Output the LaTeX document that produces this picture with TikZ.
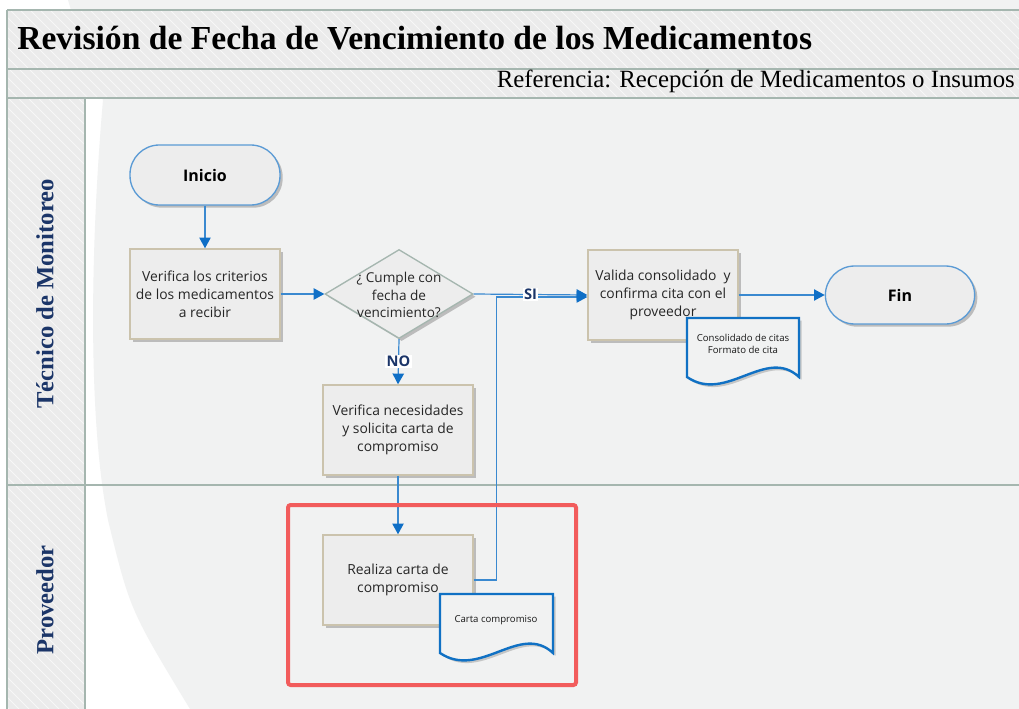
\documentclass[tikz,border=0pt]{standalone}
\usepackage{fontspec}
\setmainfont{Liberation Serif}
\newfontfamily\uifont{Open Sans}
\usetikzlibrary{arrows.meta,shapes.geometric,shadows,calc}
\definecolor{pagegray}{HTML}{F1F2F2}
\definecolor{headgray}{HTML}{EBEBEB}
\definecolor{laneline}{HTML}{A5B6AF}
\definecolor{navy}{HTML}{1B3568}
\definecolor{boxfill}{HTML}{EDEDED}
\definecolor{boxline}{HTML}{CBC3AD}
\definecolor{termline}{HTML}{5B9BD5}
\definecolor{arrowblue}{HTML}{0F6FC6}
\definecolor{lineblue}{HTML}{3A89D0}
\definecolor{docblue}{HTML}{1071C4}
\definecolor{redbox}{HTML}{F25C5C}
\tikzset{
  shade1/.style={drop shadow={shadow xshift=2pt, shadow yshift=-2pt, opacity=0.22, fill=black}},
  procbox/.style={draw=boxline, line width=1.1pt, fill=boxfill, minimum width=112.5pt, minimum height=67.5pt,
    inner sep=2pt, align=center, font=\uifont\fontsize{10.4}{13.5}\selectfont, text=black!85, shade1},
  term/.style={draw=termline, line width=1pt, fill=boxfill, minimum width=112.5pt, minimum height=45pt,
    rounded corners=22pt, font=\uifont\bfseries\fontsize{12}{14}\selectfont, shade1},
  dia/.style={diamond, draw=laneline, line width=1pt, fill=boxfill, minimum width=111pt, minimum height=66.75pt,
    inner sep=0pt, shade1},
  diatext/.style={align=center, font=\uifont\fontsize{10.2}{13.3}\selectfont, text=black!85, inner sep=0pt},
  doctext/.style={align=center, font=\uifont\fontsize{7.2}{9}\selectfont, text=black!90, inner sep=0pt},
  docshape/.style={draw=docblue, line width=1.8pt, fill=pagegray, line join=miter,
    drop shadow={shadow xshift=2pt, shadow yshift=-2pt, opacity=0.18, fill=black}},
  flow/.style={draw=lineblue, line width=0.9pt, -{Triangle[length=8pt,width=8.5pt,color=arrowblue]}},
  lbl/.style={fill=white, font=\uifont\bfseries\fontsize{11}{13}\selectfont, text=navy, inner sep=1pt},
  lanelbl/.style={font=\bfseries\fontsize{18.5}{22}\selectfont, text=navy, inner sep=0pt},
  lanerule/.style={draw=laneline, line width=1.4pt},
}
\begin{document}
\begin{tikzpicture}[x=0.75pt,y=-0.75pt]
\useasboundingbox (0,0) rectangle (1019,709);
% page background
\fill[white] (0,0) rectangle (1019,709);
\fill[pagegray] (68,0) -- (1019,0) -- (1019,709) -- (190,709) .. controls (130,610) .. (108,520)
  .. controls (88,420) and (90,250) .. (103,100) -- (80,40) -- cycle;
% header bands
\fill[headgray] (7,10) rectangle (1019,98);
\fill[headgray] (7,98) rectangle (85,709);
\begin{scope}
  \clip (7,10) rectangle (1019,98) (7,98) rectangle (85,709);
  \foreach \i in {-720,-710,...,1019}
    \draw[white, opacity=0.6, line width=0.6pt] (\i,0) -- ++(730,730);
\end{scope}
\draw[lanerule] (7,10) -- (1019,10);
\draw[lanerule] (7,69) -- (1019,69);
\draw[lanerule] (7,98) -- (1019,98);
\draw[lanerule] (7,485) -- (1019,485);
\draw[lanerule] (7,10) -- (7,709);
\draw[lanerule] (85,98) -- (85,709);
% titles
\node[anchor=base west, inner sep=0pt, font=\bfseries\fontsize{25.2}{28}\selectfont] (title) at (17,50)
  {Revisión de Fecha de Vencimiento de los Medicamentos};
\node[anchor=base east, inner sep=0pt, font=\fontsize{18.6}{20}\selectfont] (ref) at (1015,88)
  {Referencia: Recepción de Medicamentos o Insumos};
\node[lanelbl, rotate=90] (lane1) at (45,294) {Técnico de Monitoreo};
\node[lanelbl, rotate=90] (lane2) at (45,600) {Proveedor};
% nodes
\node[term] (ini) at (205,175) {Inicio};
\node[procbox] (ver) at (205,294) {Verifica los criterios\\de los medicamentos\\a recibir};
\node[dia] (dec) at (399,294) {};
\node[diatext] (dect) at (399,295) {¿ Cumple con\\fecha de\\vencimiento?};
\node[procbox] (nec) at (398,430) {Verifica necesidades\\y solicita carta de\\compromiso};
\node[procbox] (rea) at (398,580) {Realiza carta de\\compromiso};
\node[procbox] (val) at (663,295) {Valida consolidado\ \ y\\confirma cita con el\\proveedor};
\node[term, minimum width=112pt, minimum height=43.5pt] (fin) at (900,295) {Fin};
% connectors
\draw[flow] (ini) -- (ver);
\draw[flow] (ver.east) -- (dec.west);
\draw[flow] (dec.south) -- node[lbl] {NO} (nec.north);
\draw[flow] (nec) -- (rea);
\draw[flow] (rea.east) -- ++(23,0) |- ($(val.west)+(0,2)$);
\draw[flow] (dec.east) -- node[lbl] {SI} (val.west);
\draw[flow] (val.east) -- (fin.west);
% documents
\path[docshape] (687,318) -- (799,318) -- (799,377) .. controls (766,346) and (726,404) .. (687,377) -- cycle;
\node[doctext] (doc1) at (743,344) {Consolidado de citas\\Formato de cita};
\path[docshape] (440,594) -- (553,594) -- (553,653) .. controls (520,622) and (480,680) .. (440,653) -- cycle;
\node[doctext] (doc2) at (496,620) {Carta compromiso};
% highlight
\draw[redbox, line width=3pt, rounded corners=2pt] (288,505) rectangle (576,685);
\end{tikzpicture}
\end{document}
